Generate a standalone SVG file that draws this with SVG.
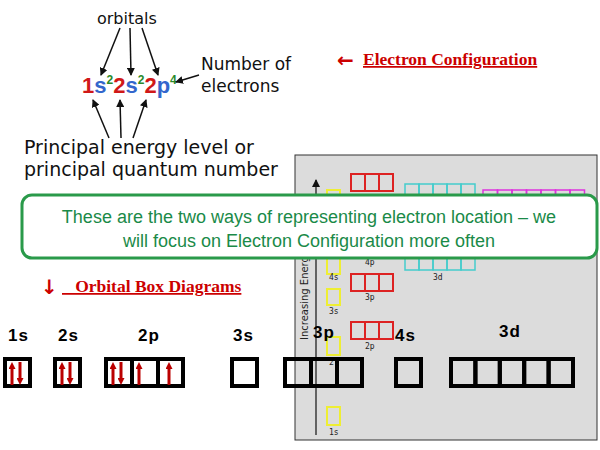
<svg xmlns="http://www.w3.org/2000/svg" width="600" height="450" viewBox="0 0 600 450">
<style>
.ob{fill:none;stroke:#000;stroke-width:4}
.hd{font-family:"Liberation Sans",Arial,sans-serif;font-weight:bold;font-size:17px;fill:#000;letter-spacing:1px}
.vd{font-family:"DejaVu Sans",sans-serif;fill:#111}
.ar{stroke:#111;stroke-width:1.5;fill:none;marker-end:url(#ah)}
.el{stroke:#b00;stroke-width:3;fill:none}
.sm{font-family:"DejaVu Sans Mono",monospace;font-size:8px;fill:#222}
.ttl{font-family:"Liberation Serif",serif;font-weight:bold;font-size:17.5px;fill:#c00;text-decoration:underline}
</style>
<defs>
<marker id="ah" markerWidth="8" markerHeight="8" refX="7" refY="4" orient="auto" markerUnits="userSpaceOnUse"><path d="M0,0L8,4L0,8z" fill="#111"/></marker>
<marker id="ea" markerWidth="7" markerHeight="7" refX="3" refY="3.5" orient="auto" markerUnits="userSpaceOnUse"><path d="M0,0L7,3.5L0,7z" fill="#b00"/></marker>
</defs>
<rect width="600" height="450" fill="#fff"/>
<g id="panel">
<rect x="295" y="155" width="302" height="285" fill="#dcdcdc" stroke="#333" stroke-width="1"/>
<line x1="316" y1="435" x2="316" y2="180" stroke="#111" stroke-width="1.2" marker-end="url(#ah)"/>
<text transform="translate(308,340) rotate(-90)" font-family="DejaVu Sans,sans-serif" font-size="10" fill="#222">Increasing Energy</text>
<g fill="none" stroke="#ee3" stroke-width="2">
<rect x="327" y="407" width="13" height="18"/><rect x="327" y="337" width="13" height="18"/><rect x="327" y="289" width="13" height="16"/><rect x="327" y="258" width="13" height="16"/><rect x="327" y="190" width="13" height="16"/>
</g>
<text class="sm" x="329" y="435">1s</text><text class="sm" x="329" y="365">2</text><text class="sm" x="329" y="314">3s</text><text class="sm" x="329" y="280">4s</text>
<g fill="none" stroke="#d22" stroke-width="2">
<rect x="351" y="174" width="14" height="17"/><rect x="365" y="174" width="14" height="17"/><rect x="379" y="174" width="14" height="17"/>
<rect x="351" y="274" width="14" height="17"/><rect x="365" y="274" width="14" height="17"/><rect x="379" y="274" width="14" height="17"/>
<rect x="351" y="322" width="14" height="17"/><rect x="365" y="322" width="14" height="17"/><rect x="379" y="322" width="14" height="17"/>
</g>
<text class="sm" x="365" y="265">4p</text><text class="sm" x="365" y="300">3p</text><text class="sm" x="365" y="349">2p</text>
<g fill="none" stroke="#4cc" stroke-width="1.5">
<rect x="405" y="184" width="14" height="16"/><rect x="419" y="184" width="14" height="16"/><rect x="433" y="184" width="14" height="16"/><rect x="447" y="184" width="14" height="16"/><rect x="461" y="184" width="14" height="16"/>
<rect x="405" y="254" width="14" height="16"/><rect x="419" y="254" width="14" height="16"/><rect x="433" y="254" width="14" height="16"/><rect x="447" y="254" width="14" height="16"/><rect x="461" y="254" width="14" height="16"/>
</g>
<text class="sm" x="433" y="280">3d</text>
<g fill="none" stroke="#d3d" stroke-width="1.5">
<rect x="483" y="190" width="14.5" height="16"/><rect x="497.5" y="190" width="14.5" height="16"/><rect x="512" y="190" width="14.5" height="16"/><rect x="526.5" y="190" width="14.5" height="16"/><rect x="541" y="190" width="14.5" height="16"/><rect x="555.5" y="190" width="14.5" height="16"/><rect x="570" y="190" width="14.5" height="16"/>
</g>
</g>
<g id="formula">
<text class="vd" x="97" y="24" style="font-size:16px">orbitals</text>
<text x="82" y="93" font-family="Liberation Sans,sans-serif" font-weight="bold" font-size="22"><tspan fill="#d01818">1</tspan><tspan fill="#3366cc">s</tspan><tspan fill="#2a8a2a" font-size="12" dy="-9">2</tspan><tspan fill="#d01818" dy="9">2</tspan><tspan fill="#3366cc">s</tspan><tspan fill="#2a8a2a" font-size="12" dy="-9">2</tspan><tspan fill="#d01818" dy="9">2</tspan><tspan fill="#3366cc">p</tspan><tspan fill="#2a8a2a" font-size="12" dy="-9">4</tspan></text>
<text class="vd" x="201" y="70" style="font-size:17px">Number of</text>
<text class="vd" x="201" y="92" style="font-size:17px">electrons</text>
<text class="vd" x="24" y="154" style="font-size:19px">Principal energy level or</text>
<text class="vd" x="24" y="176" style="font-size:19px">principal quantum number</text>
</g>
<g id="connectors">
<path class="ar" d="M120,28L101,75"/><path class="ar" d="M130,28L131,75"/><path class="ar" d="M142,28L158,75"/>
<path class="ar" d="M199,75L176,82"/>
<path class="ar" d="M109,138L93,100"/><path class="ar" d="M121,138L120,100"/><path class="ar" d="M133,138L146,100"/>
</g>
<g id="titles">
<text x="337" y="67" font-family="DejaVu Sans,sans-serif" font-size="20" font-weight="bold" fill="#c00">←</text>
<text class="ttl" x="363" y="65">Electron Configuration</text>
<text x="41" y="294" font-family="DejaVu Sans,sans-serif" font-size="20" font-weight="bold" fill="#c00">↓</text>
<text class="ttl" x="62" y="292" xml:space="preserve">   Orbital Box Diagrams</text>
</g>
<g id="boxes">
<text class="hd" x="8" y="341">1s</text><text class="hd" x="58" y="341">2s</text><text class="hd" x="138" y="341">2p</text><text class="hd" x="233" y="341">3s</text><text class="hd" x="313" y="338">3p</text><text class="hd" x="395" y="341">4s</text><text class="hd" x="499" y="337">3d</text>
<rect class="ob" x="5" y="359" width="25" height="27"/><rect class="ob" x="55" y="359" width="25" height="27"/>
<rect class="ob" x="106" y="359" width="26" height="27"/><rect class="ob" x="132" y="359" width="26" height="27"/><rect class="ob" x="158" y="359" width="25" height="27"/>
<rect class="ob" x="232" y="359" width="25" height="27"/>
<rect class="ob" x="285" y="359" width="26" height="27"/><rect class="ob" x="311" y="359" width="26" height="27"/><rect class="ob" x="337" y="359" width="25" height="27"/>
<rect class="ob" x="396" y="359" width="25" height="27"/>
<rect class="ob" x="451" y="359" width="24.4" height="27"/><rect class="ob" x="475.4" y="359" width="24.4" height="27"/><rect class="ob" x="499.8" y="359" width="24.4" height="27"/><rect class="ob" x="524.2" y="359" width="24.4" height="27"/><rect class="ob" x="548.6" y="359" width="24.4" height="27"/>
<g class="el">
<path d="M12,385V366" marker-end="url(#ea)"/><path d="M20,362V381" marker-end="url(#ea)"/>
<path d="M62,385V366" marker-end="url(#ea)"/><path d="M70,362V381" marker-end="url(#ea)"/>
<path d="M113,385V366" marker-end="url(#ea)"/><path d="M121,362V381" marker-end="url(#ea)"/>
<path d="M139,385V366" marker-end="url(#ea)"/><path d="M169,385V366" marker-end="url(#ea)"/>
</g>
</g>
<g id="callout">
<rect x="22" y="195" width="575" height="63" rx="10" fill="#fff" stroke="#2a9a4a" stroke-width="3"/>
<text x="309" y="223" text-anchor="middle" font-family="Liberation Sans,Arial,sans-serif" font-size="18" fill="#1a8a48">These are the two ways of representing electron location – we</text>
<text x="309" y="247" text-anchor="middle" font-family="Liberation Sans,Arial,sans-serif" font-size="18" fill="#1a8a48">will focus on Electron Configuration more often</text>
</g>
</svg>
